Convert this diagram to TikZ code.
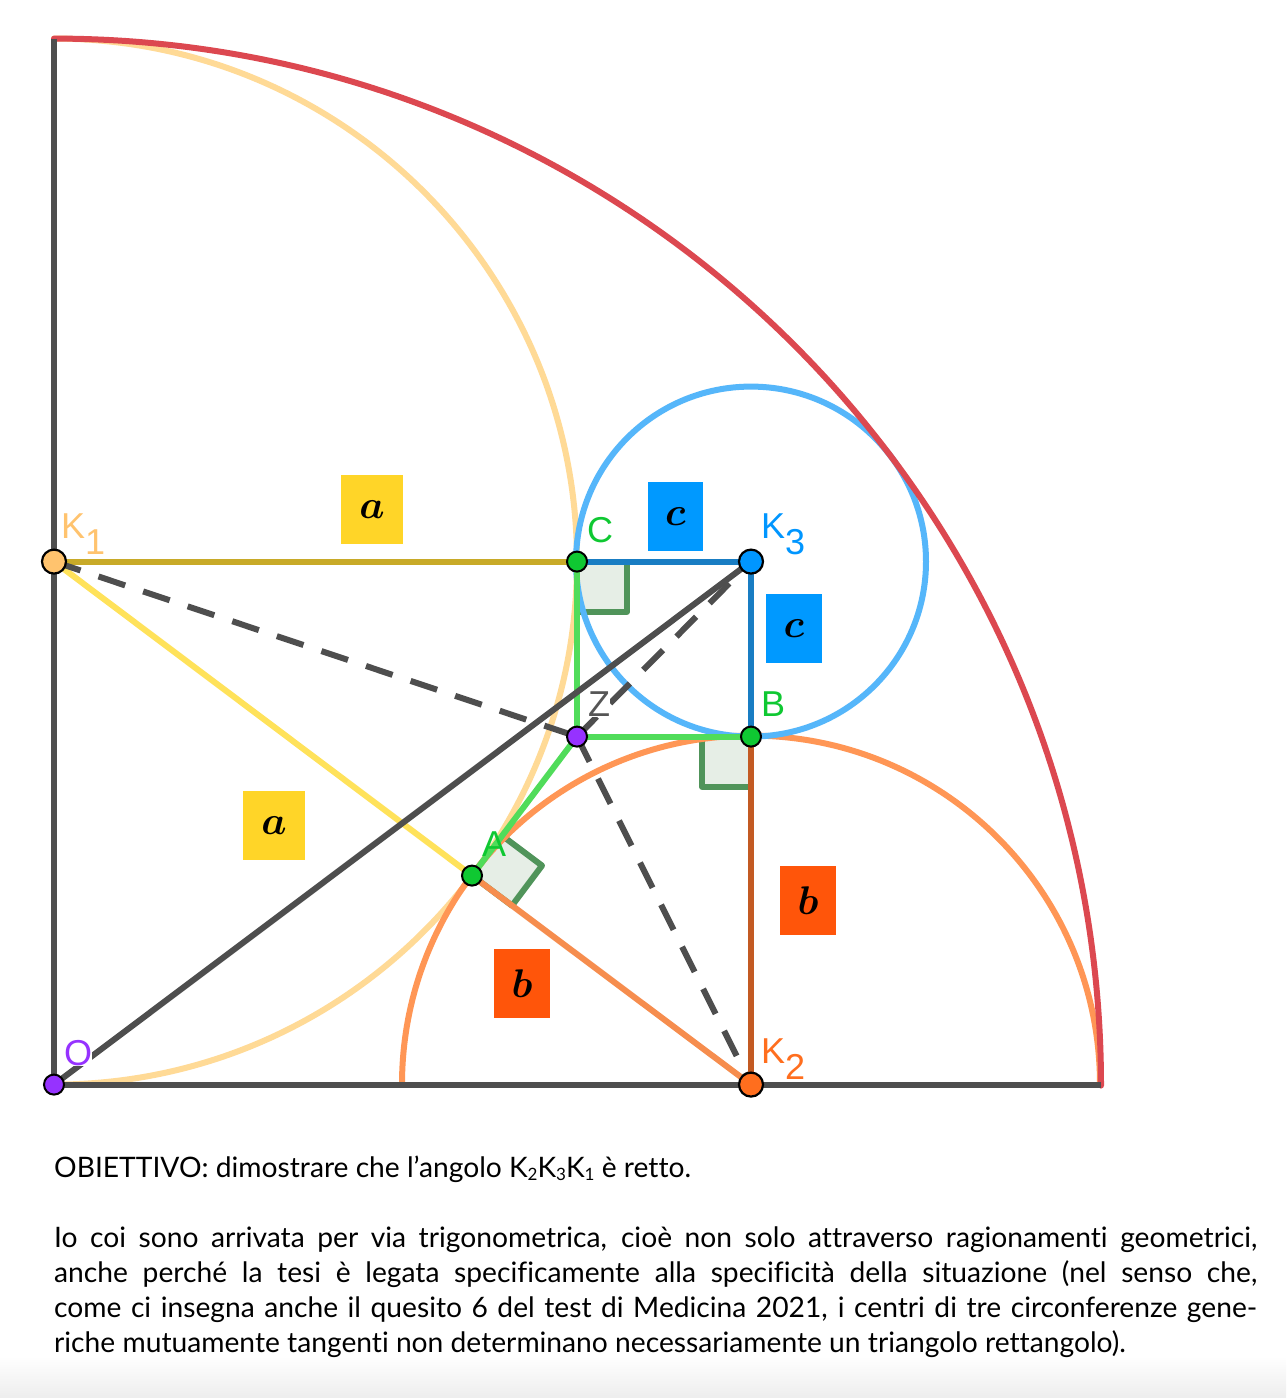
\documentclass[tikz,border=0pt]{standalone}
\usepackage{fontspec}
\setmainfont[Ligatures=NoCommon]{Lato}
\newfontfamily\geo{Liberation Sans}
\definecolor{axisc}{RGB}{78,78,78}
\definecolor{redc}{RGB}{220,72,80}
\definecolor{palec}{RGB}{255,218,150}
\definecolor{orc}{RGB}{255,150,85}
\definecolor{bluec}{RGB}{85,182,250}
\definecolor{yelc}{RGB}{255,226,90}
\definecolor{k1c}{RGB}{200,170,40}
\definecolor{k3c}{RGB}{25,125,195}
\definecolor{k2c}{RGB}{195,90,35}
\definecolor{grc}{RGB}{80,220,90}
\definecolor{sqf}{RGB}{230,238,230}
\definecolor{sqd}{RGB}{80,148,90}
\definecolor{ptg}{RGB}{15,200,50}
\definecolor{ptp}{RGB}{150,50,255}
\definecolor{boxa}{RGB}{255,213,40}
\definecolor{boxb}{RGB}{255,85,10}
\definecolor{boxc}{RGB}{0,153,255}
\definecolor{labk}{RGB}{255,195,110}
\definecolor{labo}{RGB}{255,110,30}
\definecolor{labb}{RGB}{0,150,255}
\definecolor{labg}{RGB}{15,200,50}
\definecolor{labz}{RGB}{85,85,85}
\tikzset{
  x=1pt,y=1pt,
  curve/.style={line width=6pt,line cap=round},
  seg/.style={line width=6pt},
  dashseg/.style={line width=6pt,color=axisc,dash pattern=on 28pt off 19pt},
  sq/.style={fill=sqf,draw=sqd,line width=6pt,line join=round},
  bigpt/.style={circle,draw=black,line width=2.2pt,inner sep=0pt,minimum size=24pt},
  smallpt/.style={circle,draw=black,line width=2pt,inner sep=0pt,minimum size=20pt},
  lab/.style={font=\geo\fontsize{36}{36}\selectfont,inner sep=0pt,anchor=base west},
  letterbox/.style={inner sep=0pt,font=\boldmath},
  txt/.style={inner sep=0pt,anchor=base west,font=\fontsize{28.2}{34}\selectfont,text=black},
}
\newcommand{\sbs}[1]{\raisebox{-16pt}{#1}}
\newcommand{\ssb}[1]{\raisebox{-3pt}{\fontsize{17}{17}\selectfont #1}}
\newcommand{\jline}[1]{\makebox[1203pt][s]{#1}}
\newcommand{\bl}[1]{\scalebox{4}{$#1$}}
\begin{document}
\begin{tikzpicture}
\useasboundingbox (0,0) rectangle (1286,1398);
\fill[white] (0,0) rectangle (1286,1398);
\shade[top color=white,bottom color=black!7] (0,0) rectangle (1286,42);
\begin{scope}[yshift=-0.6pt]
% geometry
\coordinate (O) at (54,314);
\coordinate (T) at (54,1360);
\coordinate (R) at (1101,314);
\coordinate (K1) at (54,837);
\coordinate (K2) at (751,314);
\coordinate (K3) at (751,837);
\coordinate (C) at (577,837);
\coordinate (B) at (751,662);
\coordinate (Z) at (577,662);
\coordinate (A) at (472,523);
\coordinate (L) at (402,314);
% right-angle squares
\draw[sq] (C) rectangle (627,787);
\draw[sq] (B) rectangle (702,612);
\draw[sq] (A) -- (502,563) -- (542,533) -- (512,493) -- cycle;
% arcs
\draw[curve,palec] (T) arc[start angle=90,end angle=-90,radius=523];
\draw[curve,orc] (L) arc[start angle=180,end angle=0,radius=349];
\draw[curve,bluec] (K3) circle[radius=175];
\draw[curve,redc] (T) arc[start angle=90,end angle=0,radius=1047];
% segments
\draw[seg,axisc] (T) -- (O) -- (R);
\draw[seg,yelc] (K1) -- (A);
\draw[seg,orc!85!k2c] (A) -- (K2);
\draw[seg,k1c] (K1) -- (C);
\draw[seg,k3c] (C) -- (K3) -- (B);
\draw[seg,k2c] (B) -- (K2);
\draw[seg,grc] (C) -- (Z) -- (B);
\draw[seg,grc] (Z) -- (A);
\draw[seg,axisc] (O) -- (K3);
\draw[dashseg] (K1) -- (Z);
\draw[dashseg] (Z) -- (K3);
\draw[dashseg] (Z) -- (K2);
% point labels (Z and O knock out the lines behind them)
\node[lab,text=labz,fill=white] (lZ) at (588,682) {Z};
\node[lab,text=ptp,fill=white] (lO) at (64,333) {O};
\node[lab,text=labk] (lK1) at (61,860) {K\sbs{1}};
\node[lab,text=labo] (lK2) at (761,335) {K\sbs{2}};
\node[lab,text=labb] (lK3) at (761,860) {K\sbs{3}};
\node[lab,text=labg] (lC) at (587,856) {C};
\node[lab,text=labg] (lB) at (761,682) {B};
\node[lab,text=labg] (lA) at (482,542) {A};
% points
\node[bigpt,fill=labk] (pK1) at (K1) {};
\node[bigpt,fill=labo] (pK2) at (K2) {};
\node[bigpt,fill=labb] (pK3) at (K3) {};
\node[smallpt,fill=ptg] (pC) at (C) {};
\node[smallpt,fill=ptg] (pB) at (B) {};
\node[smallpt,fill=ptg] (pA) at (A) {};
\node[smallpt,fill=ptp] (pZ) at (Z) {};
\node[smallpt,fill=ptp] (pO) at (O) {};
\end{scope}
% letter boxes
\node[letterbox,fill=boxa,minimum width=62pt,minimum height=69pt] (ba1) at (372,888.5) {\bl{a}};
\node[letterbox,fill=boxa,minimum width=62pt,minimum height=69pt] (ba2) at (274,572.5) {\bl{a}};
\node[letterbox,fill=boxc,minimum width=55pt,minimum height=69pt] (bc1) at (675.5,881.5) {\bl{c}};
\node[letterbox,fill=boxc,minimum width=56pt,minimum height=69pt] (bc2) at (794,769.5) {\bl{c}};
\node[letterbox,fill=boxb,minimum width=56pt,minimum height=69pt] (bb1) at (808,497.5) {\bl{b}};
\node[letterbox,fill=boxb,minimum width=56pt,minimum height=69pt] (bb2) at (522,414.5) {\bl{b}};
% text
\node[txt] (t1) at (54,220) {OBIETTIVO: dimostrare che l’angolo K\ssb{2}K\ssb{3}K\ssb{1} è retto.};
\node[txt] (t2) at (54,150) {\jline{Io coi sono arrivata per via trigonometrica, cioè non solo attraverso ragionamenti geometrici,}};
\node[txt] (t3) at (54,115) {\jline{anche perché la tesi è legata specificamente alla specificità della situazione (nel senso che,}};
\node[txt] (t4) at (54,80) {\jline{come ci insegna anche il quesito 6 del test di Medicina 2021, i centri di tre circonferenze gene-}};
\node[txt] (t5) at (54,45) {riche mutuamente tangenti non determinano necessariamente un triangolo rettangolo).};
\end{tikzpicture}
\end{document}
